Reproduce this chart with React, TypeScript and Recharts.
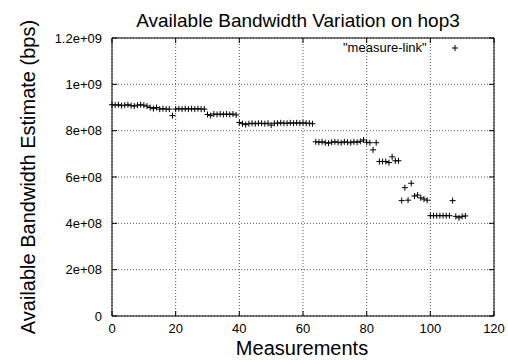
import { CartesianGrid, Label, ReferenceLine, Scatter, ScatterChart, XAxis, YAxis } from 'recharts';

// Available bandwidth estimate per measurement (bps), index = measurement number
const bandwidth = [
  912e6, 910e6, 912e6, 908e6, 910e6, 912e6, 908e6, 906e6, 910e6, 912e6,
  910e6, 906e6, 900e6, 895e6, 900e6, 893e6, 895e6, 893e6, 893e6, 865e6,
  893e6, 895e6, 893e6, 895e6, 893e6, 895e6, 893e6, 895e6, 893e6, 893e6,
  870e6, 865e6, 872e6, 870e6, 872e6, 870e6, 872e6, 870e6, 872e6, 868e6,
  835e6, 830e6, 826e6, 830e6, 832e6, 830e6, 832e6, 832e6, 830e6, 832e6,
  824e6, 832e6, 832e6, 834e6, 832e6, 832e6, 834e6, 832e6, 834e6, 832e6,
  834e6, 832e6, 832e6, 830e6, 752e6, 750e6, 752e6, 748e6, 746e6, 750e6,
  752e6, 750e6, 748e6, 752e6, 750e6, 748e6, 752e6, 750e6, 754e6, 760e6,
  750e6, 748e6, 717e6, 748e6, 667e6, 667e6, 667e6, 662e6, 687e6, 670e6,
  670e6, 498e6, 554e6, 500e6, 573e6, 518e6, 522e6, 510e6, 505e6, 500e6,
  433e6, 433e6, 433e6, 433e6, 433e6, 433e6, 433e6, 498e6, 430e6, 424e6,
  430e6, 432e6,
];

const xTicks = [0, 20, 40, 60, 80, 100, 120];
const yTicks = [0, 2e8, 4e8, 6e8, 8e8, 1e9, 1.2e9];

const data = bandwidth.map((v, i) => ({ measurement: i, bandwidth: v }));

const FONT = '"Liberation Sans", Arial, Helvetica, sans-serif';
const WIDTH = 508;
const HEIGHT = 360;
const PLOT_LEFT = 112;
const PLOT_TOP = 38;
const PLOT_RIGHT = 494;
const PLOT_BOTTOM = 316;
const TICK_LEN = 5;

function formatExp(v: number) {
  if (v === 0) return '0';
  const [m, e] = v.toExponential().split('e');
  const sign = e.startsWith('-') ? '-' : '+';
  const digits = e.replace(/[+-]/, '').padStart(2, '0');
  return `${m}e${sign}${digits}`;
}

function XTick({ x, payload }: any) {
  return (
    <g>
      <line x1={x} x2={x} y1={PLOT_BOTTOM} y2={PLOT_BOTTOM - TICK_LEN} stroke="#000" />
      <line x1={x} x2={x} y1={PLOT_TOP} y2={PLOT_TOP + TICK_LEN} stroke="#000" />
      <text x={x} y={PLOT_BOTTOM + 17} textAnchor="middle" fontSize={13} fontFamily={FONT} fill="#000">
        {payload.value}
      </text>
    </g>
  );
}

function YTick({ y, payload }: any) {
  return (
    <g>
      <line x1={PLOT_LEFT} x2={PLOT_LEFT + TICK_LEN} y1={y} y2={y} stroke="#000" />
      <line x1={PLOT_RIGHT} x2={PLOT_RIGHT - TICK_LEN} y1={y} y2={y} stroke="#000" />
      <text x={PLOT_LEFT - 10} y={y + 4.5} textAnchor="end" fontSize={13} fontFamily={FONT} fill="#000">
        {formatExp(payload.value)}
      </text>
    </g>
  );
}

function Cross({ cx, cy }: any) {
  return <path d={`M${cx - 3},${cy}h6M${cx},${cy - 3}v6`} stroke="#000" strokeWidth={1} fill="none" />;
}

export default function App() {
  return (
    <div style={{ position: 'absolute', left: 0, top: 0, width: WIDTH, height: HEIGHT, background: '#fff' }}>
      <ScatterChart
        width={WIDTH}
        height={HEIGHT}
        margin={{ top: PLOT_TOP, right: WIDTH - PLOT_RIGHT, bottom: HEIGHT - PLOT_BOTTOM - 30, left: PLOT_LEFT - 60 }}
      >
        <CartesianGrid stroke="#555" strokeDasharray="1 2" />
        <XAxis
          type="number"
          dataKey="measurement"
          domain={[0, 120]}
          ticks={xTicks}
          height={30}
          tickLine={false}
          tickSize={0}
          tick={<XTick />}
          axisLine={{ stroke: '#000' }}
        >
          <Label
            content={() => (
              <text x={302} y={355} textAnchor="middle" fontSize={20} fontFamily={FONT} fill="#000">
                Measurements
              </text>
            )}
          />
        </XAxis>
        <YAxis
          type="number"
          dataKey="bandwidth"
          domain={[0, 1.2e9]}
          ticks={yTicks}
          width={60}
          tickLine={false}
          tickSize={0}
          tick={<YTick />}
          axisLine={{ stroke: '#000' }}
        >
          <Label
            content={() => (
              <text
                x={35}
                y={177}
                transform="rotate(-90, 35, 177)"
                textAnchor="middle"
                fontSize={20}
                fontFamily={FONT}
                fill="#000"
              >
                Available Bandwidth Estimate (bps)
              </text>
            )}
          />
        </YAxis>
        <ReferenceLine x={120} stroke="#000" />
        <ReferenceLine y={1.2e9} stroke="#000">
          <Label
            content={() => (
              <text x={298} y={27} textAnchor="middle" fontSize={19} fontFamily={FONT} fill="#000">
                Available Bandwidth Variation on hop3
              </text>
            )}
          />
        </ReferenceLine>
        <Scatter name="measure-link" data={data} shape={<Cross />} isAnimationActive={false} />
      </ScatterChart>
      <div
        style={{
          position: 'absolute',
          top: 40,
          left: 343,
          display: 'flex',
          alignItems: 'center',
          fontFamily: FONT,
          fontSize: 13,
          color: '#000',
        }}
      >
        <span>"measure-link"</span>
        <svg width={10} height={10} style={{ marginLeft: 23 }}>
          <path d="M2,5h6M5,2v6" stroke="#000" strokeWidth={1} fill="none" />
        </svg>
      </div>
    </div>
  );
}
